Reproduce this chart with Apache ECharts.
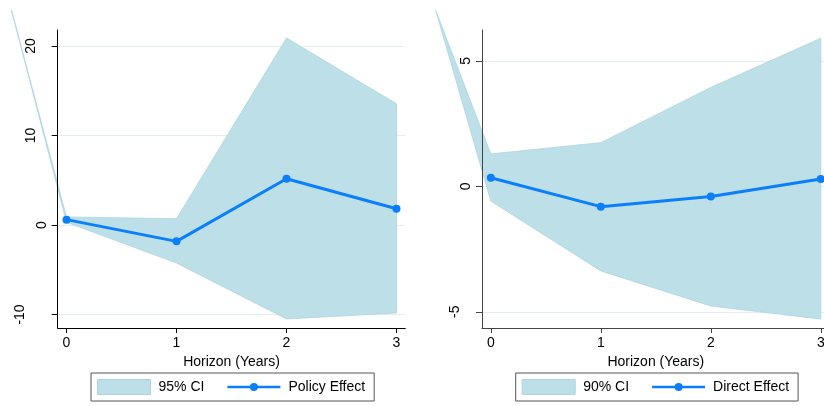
<!DOCTYPE html>
<html>
<head>
<meta charset="utf-8">
<script src="https://cdn.jsdelivr.net/npm/echarts@6/dist/echarts.min.js"></script>
<style>
  html, body { margin: 0; padding: 0; background: #fff; }
  #chart { width: 824px; height: 406px; }
</style>
</head>
<body>
<div id="chart"></div>
<script>
// Horizons (years) of the impulse responses
const horizon = [0, 1, 2, 3];
// Band rows start with a lead-in point at horizon -0.5
const bandHorizon = [-0.5, 0, 1, 2, 3];
const horizonTicks = [0, 1, 2, 3];

// Left panel: policy effect with 95% CI
const policyEffect = [0.6, -1.83, 5.17, 1.82];
const policyUpper95 = [24, 0.9, 0.7, 20.9, 13.55];
const policyLower95 = [24, 0.3, -4.25, -10.5, -9.83];
const policyTicks = [-10, 0, 10, 20];

// Right panel: direct effect with 90% CI
const directEffect = [0.34, -0.81, -0.41, 0.29];
const directUpper90 = [7, 1.29, 1.74, 3.94, 5.9];
const directLower90 = [7, -0.59, -3.37, -4.77, -5.29];
const directTicks = [-5, 0, 5];

const FONT = "'Liberation Sans', Arial, Helvetica, sans-serif";
const BAND = '#bddfe8';
const BAND_EDGE = '#acd4df';
const BLUE = '#0b7ffb';
const GRID_LINE = '#e3eef1';
// Legend glyph: a bar with a dot in the middle, framed in a 53x15 box
const LINE_ICON = 'path://M0,0h0.01v0.01h-0.01zM0,6.25h53v2.5h-53zM26.5,3.5a4,4 0 1,1 0,8a4,4 0 1,1 0,-8zM52.99,14.99h0.01v0.01h-0.01z';

const chart = echarts.init(document.getElementById('chart'), null, { renderer: 'canvas' });

function xAxisFor(gridIndex, axisColor) {
  return {
    type: 'value', gridIndex, position: 'bottom', min: -0.08, max: 3.08,
    name: 'Horizon (Years)', nameLocation: 'middle', nameGap: 22,
    nameTextStyle: { fontSize: 14, color: '#000', fontFamily: FONT },
    axisLine: { show: true, onZero: false, lineStyle: { color: axisColor, width: 1 } },
    axisTick: { show: true, length: 5, customValues: horizonTicks, lineStyle: { color: axisColor } },
    axisLabel: { customValues: horizonTicks, margin: 8, fontSize: 14, color: '#000', fontFamily: FONT },
    splitLine: { show: false }
  };
}

function yAxisFor(gridIndex, min, max, ticks, axisColor) {
  const rich = {};
  [1, 2, 3].forEach(n => {
    rich['s' + n] = { fontSize: 14, color: '#000', fontFamily: FONT, padding: [0, 0, (n - 1) * 11, 0] };
  });
  return {
    type: 'value', gridIndex, position: 'left', min, max,
    axisLine: { show: false, onZero: false },
    axisTick: { show: true, length: 6, customValues: ticks, lineStyle: { color: axisColor } },
    axisLabel: {
      customValues: ticks, rotate: 90, margin: 9,
      fontSize: 14, color: '#000', fontFamily: FONT,
      formatter: v => '{s' + String(v).length + '|' + v + '}',
      rich
    },
    splitLine: { show: true, lineStyle: { color: GRID_LINE, width: 1.2 } }
  };
}

// Vertical axis line kept above the band
function yLineFor(gridIndex, min, max, axisColor) {
  return {
    type: 'value', gridIndex, position: 'left', offset: 0, min, max, z: 5,
    axisLine: { show: true, onZero: false, lineStyle: { color: axisColor, width: 1 } },
    axisTick: { show: false }, axisLabel: { show: false }, splitLine: { show: false }
  };
}

function bandSeries(name, axisIndex, yIndex, lower, upper) {
  const rows = bandHorizon.map((h, i) => [h, lower[i], upper[i]]);
  return {
    type: 'custom', name, xAxisIndex: axisIndex, yAxisIndex: yIndex,
    z: 1, clip: false, silent: true,
    itemStyle: { color: BAND },
    encode: { x: 0, y: [1, 2] },
    data: rows,
    renderItem(params, api) {
      if (params.dataIndex !== rows.length - 1) return null;
      const top = rows.map(r => api.coord([r[0], r[2]]));
      const bottom = rows.map(r => api.coord([r[0], r[1]])).reverse();
      return {
        type: 'polygon',
        shape: { points: top.concat(bottom) },
        style: { fill: BAND, stroke: BAND_EDGE, lineWidth: 0.8 }
      };
    }
  };
}

function effectSeries(name, axisIndex, yIndex, values) {
  return {
    type: 'line', name, xAxisIndex: axisIndex, yAxisIndex: yIndex, z: 3,
    data: horizon.map((h, i) => [h, values[i]]),
    symbol: 'circle', symbolSize: 8, showSymbol: true,
    lineStyle: { color: BLUE, width: 3 },
    itemStyle: { color: BLUE },
    animation: false
  };
}

function legendFor(left, ciName, effectName) {
  return {
    left, top: 373, orient: 'horizontal',
    borderColor: '#555', borderWidth: 1, padding: [6, 9, 6, 6],
    itemGap: 23, itemWidth: 53, itemHeight: 15,
    selectedMode: false,
    textStyle: { fontSize: 14, color: '#000', fontFamily: FONT, padding: [0, 0, 0, 3] },
    data: [
      { name: ciName, icon: 'rect', itemStyle: { color: BAND, borderColor: BAND_EDGE, borderWidth: 1 } },
      { name: effectName, icon: LINE_ICON }
    ]
  };
}

const leftMin = -11.51, leftMax = 21.79;
const rightMin = -5.645, rightMax = 6.227;

chart.setOption({
  animation: false,
  backgroundColor: '#fff',
  grid: [
    { left: 57.7, top: 30, width: 347.6, height: 298, outerBoundsMode: 'none', containLabel: false },
    { left: 482, top: 30, width: 347.6, height: 298, outerBoundsMode: 'none', containLabel: false }
  ],
  xAxis: [xAxisFor(0, '#000'), xAxisFor(1, '#444')],
  yAxis: [
    yAxisFor(0, leftMin, leftMax, policyTicks, '#000'),
    yLineFor(0, leftMin, leftMax, '#000'),
    yAxisFor(1, rightMin, rightMax, directTicks, '#444'),
    yLineFor(1, rightMin, rightMax, '#444')
  ],
  legend: [
    legendFor(91, '95% CI', 'Policy Effect'),
    legendFor(515.7, '90% CI', 'Direct Effect')
  ],
  series: [
    bandSeries('95% CI', 0, 0, policyLower95, policyUpper95),
    effectSeries('Policy Effect', 0, 0, policyEffect),
    bandSeries('90% CI', 1, 2, directLower90, directUpper90),
    effectSeries('Direct Effect', 1, 2, directEffect)
  ]
});
</script>
</body>
</html>
